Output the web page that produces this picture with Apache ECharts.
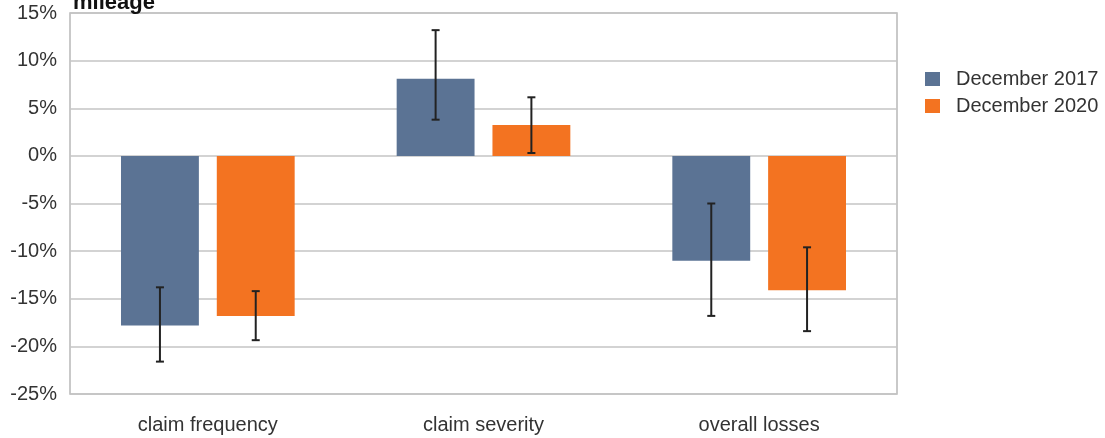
<!DOCTYPE html>
<html><head><meta charset="utf-8">
<script src="https://cdn.jsdelivr.net/npm/echarts@6/dist/echarts.min.js"></script>
<style>html,body{margin:0;padding:0;background:#fff}#c{width:1105px;height:438px}</style>
</head><body><div id="c"></div>
<script>
const categories = ['claim frequency', 'claim severity', 'overall losses'];
const seriesNames = ['December 2017', 'December 2020'];
const values2017 = [-17.8, 8.1, -11.0];
const values2020 = [-16.8, 3.25, -14.1];
const errLow2017 = [-21.6, 3.8, -16.8];
const errHigh2017 = [-13.8, 13.2, -5.0];
const errLow2020 = [-19.35, 0.3, -18.4];
const errHigh2020 = [-14.2, 6.15, -9.6];
const yTicks = [-25, -20, -15, -10, -5, 0, 5, 10, 15];

const colors = ['#5b7394', '#f37321'];
const catGap = 0.37, barGapFrac = 0.23;
const font = '"Liberation Sans", Arial, sans-serif';

function errSeries(idx, low, high) {
  const data = categories.map((c, i) => [i, low[i], high[i]]);
  return {
    type: 'custom', z: 10, silent: true,
    data: data,
    renderItem: function (params, api) {
      const i = api.value(0);
      const band = api.size([1, 0])[0];
      const group = band * (1 - catGap);
      const bw = group / (2 + barGapFrac);
      const off = (bw + bw * barGapFrac) / 2 * (idx === 0 ? -1 : 1);
      const lo = api.coord([i, api.value(1)]);
      const hi = api.coord([i, api.value(2)]);
      const x = lo[0] + off;
      const cap = 4;
      const st = { stroke: '#222', lineWidth: 2 };
      return { type: 'group', children: [
        { type: 'line', shape: { x1: x, y1: lo[1], x2: x, y2: hi[1] }, style: st },
        { type: 'line', shape: { x1: x - cap, y1: lo[1], x2: x + cap, y2: lo[1] }, style: st },
        { type: 'line', shape: { x1: x - cap, y1: hi[1], x2: x + cap, y2: hi[1] }, style: st }
      ]};
    }
  };
}

const chart = echarts.init(document.getElementById('c'));
chart.setOption({
  animation: false,
  title: { text: 'mileage', left: 68, top: -13, textStyle: { fontFamily: font, fontWeight: 'bold', fontSize: 22, color: '#111' } },
  grid: { left: 70, right: 208, top: 13, bottom: 44, show: true, borderColor: '#b8b8b8', borderWidth: 1.5 },
  legend: {
    data: seriesNames, orient: 'vertical', left: 920, top: 64, itemWidth: 15, itemHeight: 14, itemGap: 7,
    icon: 'rect',
    textStyle: { fontFamily: font, fontSize: 20, color: '#333', padding: [0, 0, 0, 11] }
  },
  xAxis: {
    type: 'category', data: categories,
    axisLine: { show: false }, axisTick: { show: false },
    axisLabel: { fontFamily: font, fontSize: 20, color: '#333', margin: 21 }
  },
  yAxis: {
    type: 'value', min: yTicks[0], max: yTicks[yTicks.length - 1], interval: 5,
    axisLine: { show: false }, axisTick: { show: false },
    axisLabel: { fontFamily: font, fontSize: 20, color: '#333', margin: 13, formatter: v => v + '%' },
    splitLine: { lineStyle: { color: '#c4c4c4', width: 1.5 } }
  },
  series: [
    { name: seriesNames[0], type: 'bar', data: values2017, itemStyle: { color: colors[0] }, barCategoryGap: (catGap * 100) + '%', barGap: (barGapFrac * 100) + '%' },
    { name: seriesNames[1], type: 'bar', data: values2020, itemStyle: { color: colors[1] }, barCategoryGap: (catGap * 100) + '%', barGap: (barGapFrac * 100) + '%' },
    errSeries(0, errLow2017, errHigh2017),
    errSeries(1, errLow2020, errHigh2020)
  ]
});
</script></body></html>
